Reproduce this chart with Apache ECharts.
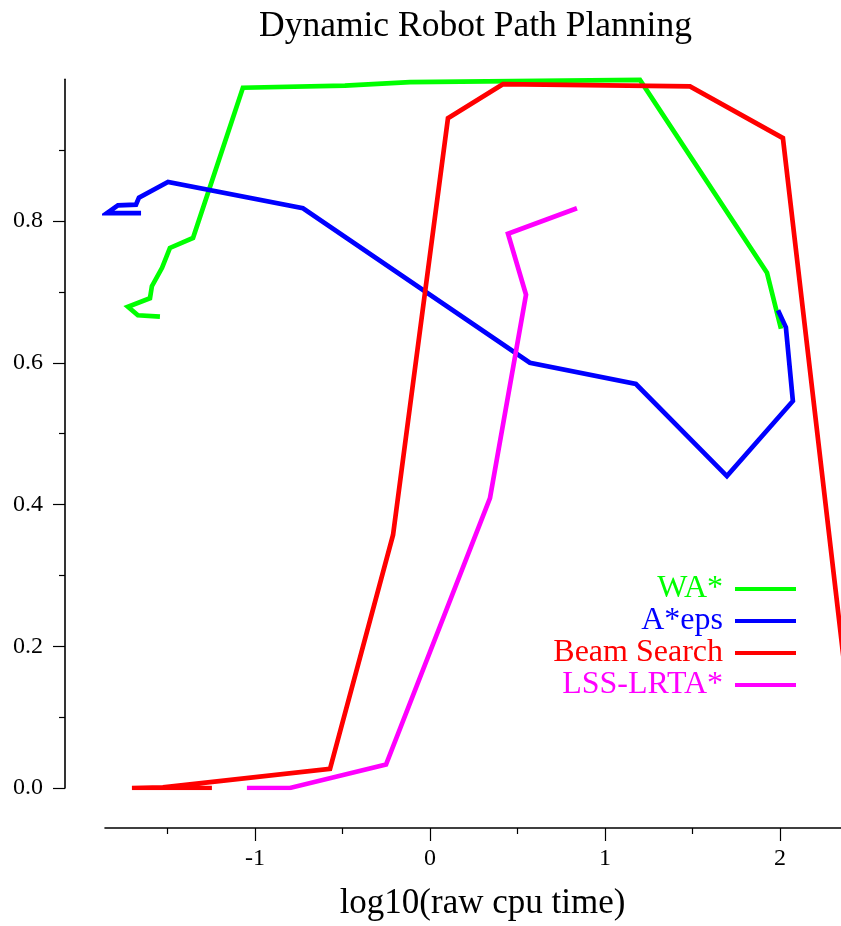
<!DOCTYPE html>
<html>
<head>
<meta charset="utf-8">
<script src="https://cdn.jsdelivr.net/npm/echarts@6/dist/echarts.min.js"></script>
<style>
html,body{margin:0;padding:0;background:#fff;}
#chart{width:841px;height:926px;}
</style>
</head>
<body>
<div id="chart"></div>
<script>
// ---- data (log10 cpu time, solution quality) ----
const seriesNames = ['WA*', 'A*eps', 'Beam Search', 'LSS-LRTA*'];

const waX = [-1.543, -1.669, -1.726, -1.600, -1.589, -1.531, -1.486, -1.354, -1.069, -0.486, -0.114, 1.200, 1.926, 2.006];
const waY = [0.665, 0.667, 0.679, 0.691, 0.708, 0.734, 0.762, 0.776, 0.988, 0.991, 0.996, 0.999, 0.727, 0.648];

const aepsX = [-1.651, -1.846, -1.783, -1.680, -1.663, -1.497, -0.726, 0.571, 1.177, 1.697, 2.074, 2.034, 1.989];
const aepsY = [0.811, 0.811, 0.822, 0.823, 0.833, 0.855, 0.818, 0.600, 0.570, 0.440, 0.546, 0.650, 0.674];

const beamX = [-1.246, -1.703, -1.526, -0.571, -0.211, 0.103, 0.417, 1.486, 2.017, 2.450];
const beamY = [0.000, 0.000, 0.001, 0.027, 0.357, 0.945, 0.993, 0.990, 0.917, 0.000];

const lssX = [-1.046, -0.800, -0.251, 0.343, 0.549, 0.446, 0.840];
const lssY = [0.000, 0.000, 0.033, 0.409, 0.696, 0.782, 0.818];

const xMajorTicks = [-1, 0, 1, 2];
const xMinorTicks = [-1.5, -0.5, 0.5, 1.5];
const yMajorTicks = [0, 0.2, 0.4, 0.6, 0.8];
const yMinorTicks = [0.1, 0.3, 0.5, 0.7, 0.9];

const colors = ['#00ff00', '#0000ff', '#ff0000', '#ff00ff'];
const xs = [waX, aepsX, beamX, lssX];
const ys = [waY, aepsY, beamY, lssY];

const FONT = '"Liberation Serif", "Times New Roman", serif';

const chart = echarts.init(document.getElementById('chart'), null, {renderer: 'canvas'});

const series = seriesNames.map((name, i) => ({
  name: name,
  type: 'line',
  xAxisIndex: 0,
  yAxisIndex: 0,
  data: xs[i].map((x, k) => [x, ys[i][k]]),
  showSymbol: false,
  symbol: 'none',
  clip: true,
  color: colors[i],
  lineStyle: {color: colors[i], width: 4.7, cap: 'butt', join: 'miter'}
}));

const axisLineStyle = {color: '#000', width: 1.6};

chart.setOption({
  animation: false,
  backgroundColor: '#fff',
  title: {
    text: 'Dynamic Robot Path Planning',
    left: 259,
    top: 9,
    padding: 0,
    textStyle: {fontFamily: FONT, fontSize: 35.5, fontWeight: 'normal', color: '#000'}
  },
  legend: {
    orient: 'vertical',
    right: 45,
    top: 573,
    padding: 0,
    align: 'right',
    icon: 'rect',
    itemWidth: 61,
    itemHeight: 4,
    itemGap: 0,
    data: seriesNames.map((n, i) => ({
      name: n,
      textStyle: {color: colors[i]}
    })),
    textStyle: {fontFamily: FONT, fontSize: 32, lineHeight: 32, padding: [0, 7, 0, 0]}
  },
  grid: {left: 105, top: 79.25, width: 736, height: 708.75, containLabel: false, outerBoundsMode: 'none'},
  xAxis: [{
    type: 'value',
    min: -1.857,
    max: 2.349,
    position: 'bottom',
    offset: 40,
    name: 'log10(raw cpu time)',
    nameLocation: 'middle',
    nameGap: 58,
    nameTextStyle: {fontFamily: FONT, fontSize: 35, color: '#000', padding: [0, 0, 0, 19]},
    axisLine: {show: true, onZero: false, lineStyle: axisLineStyle},
    axisTick: {show: true, customValues: xMajorTicks, length: 13, lineStyle: {color: '#000', width: 1.2}},
    axisLabel: {show: true, customValues: xMajorTicks, margin: 19, fontFamily: FONT, fontSize: 24, color: '#000',
      formatter: v => String(Math.round(v))},
    splitLine: {show: false}
  }, {
    type: 'value',
    min: -1.857,
    max: 2.349,
    position: 'bottom',
    offset: 40,
    axisLine: {show: false, onZero: false},
    axisTick: {show: true, customValues: xMinorTicks, length: 6, lineStyle: {color: '#000', width: 1.2}},
    axisLabel: {show: false},
    splitLine: {show: false}
  }],
  yAxis: [{
    type: 'value',
    min: 0,
    max: 1,
    position: 'left',
    offset: 40,
    axisLine: {show: true, onZero: false, lineStyle: axisLineStyle},
    axisTick: {show: true, customValues: yMajorTicks, length: 12, lineStyle: {color: '#000', width: 1.2}},
    axisLabel: {show: true, customValues: yMajorTicks, margin: 22, fontFamily: FONT, fontSize: 24, color: '#000',
      formatter: v => v.toFixed(1)},
    splitLine: {show: false}
  }, {
    type: 'value',
    min: 0,
    max: 1,
    position: 'left',
    offset: 40,
    axisLine: {show: false, onZero: false},
    axisTick: {show: true, customValues: yMinorTicks, length: 6, lineStyle: {color: '#000', width: 1.2}},
    axisLabel: {show: false},
    splitLine: {show: false}
  }],
  series: series
});
</script>
</body>
</html>
